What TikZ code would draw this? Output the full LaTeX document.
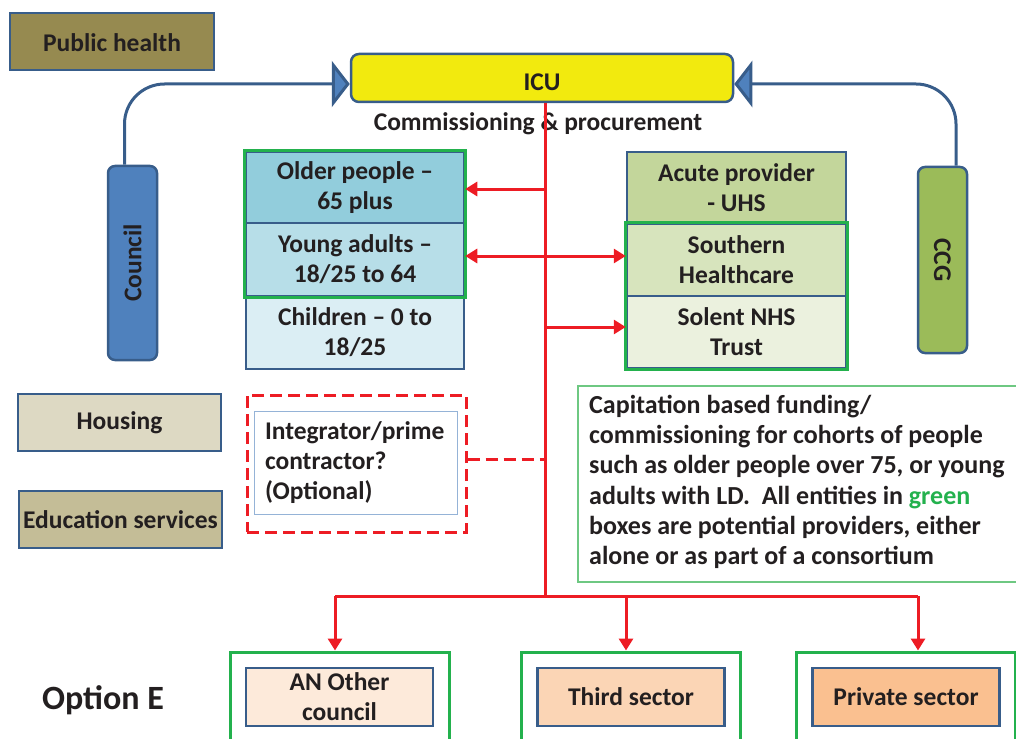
\documentclass[tikz,border=0pt]{standalone}
\usepackage{fontspec}
\setmainfont{Carlito}
\usepackage{tikz}
\usetikzlibrary{positioning, arrows.meta}

\definecolor{bordblue}{RGB}{56,93,138}
\definecolor{connblue}{RGB}{79,129,189}
\definecolor{ccggreen}{RGB}{155,187,89}
\definecolor{provgreen}{RGB}{35,177,77}
\definecolor{notegreen}{RGB}{110,200,130}
\definecolor{linkred}{RGB}{237,28,36}
\definecolor{txt}{RGB}{35,31,32}
\definecolor{olive}{RGB}{150,138,80}
\definecolor{icuyellow}{RGB}{242,234,14}
\definecolor{older}{RGB}{146,205,220}
\definecolor{young}{RGB}{183,222,232}
\definecolor{child}{RGB}{219,238,244}
\definecolor{acute}{RGB}{195,214,155}
\definecolor{south}{RGB}{215,228,189}
\definecolor{solent}{RGB}{235,241,222}
\definecolor{housing}{RGB}{221,217,195}
\definecolor{educ}{RGB}{196,189,151}
\definecolor{other}{RGB}{253,234,218}
\definecolor{third}{RGB}{251,213,181}
\definecolor{private}{RGB}{250,192,144}
\definecolor{lightblue}{RGB}{149,179,215}

\begin{document}
\begin{tikzpicture}[x=1pt, y=-1pt,
    every node/.style={font=\fontsize{25.5}{30}\selectfont\bfseries, text=txt, inner sep=0pt, align=center},
    box/.style={draw=bordblue, line width=2.5pt, minimum width=218pt, minimum height=72pt},
    sidebar/.style={draw=bordblue, line width=2.5pt, rounded corners=7pt, minimum height=49pt},
    greenframe/.style={draw=provgreen, line width=3pt},
    redlink/.style={draw=linkred, line width=3pt},
    redarrow/.style={redlink, -{Triangle[length=12pt, width=14pt]}},
    reddash/.style={redlink, dash pattern=on 12pt off 6pt},
    blueconn/.style={draw=bordblue, line width=3pt, rounded corners=40pt,
        -{Triangle[length=18pt, width=46pt, fill=connblue]}}]
    \useasboundingbox (0,0) rectangle (1016,738);

    % top row
    \node[box, fill=olive, minimum width=204pt, minimum height=57pt, text height=20.4pt, text depth=0pt] (ph) at (112,41.5) {Public health};
    \node[box, fill=icuyellow, rounded corners=8pt, minimum width=382pt, minimum height=48pt, text height=24.4pt, text depth=0pt] (icu) at (542,78) {ICU};
    \node (comm) at (538,124) {Commissioning \& procurement};

    % side bodies
    \node[sidebar, fill=connblue, rotate=90, minimum width=194pt] (council) at (132.5,263) {Council};
    \node[sidebar, fill=ccggreen, rotate=-90, minimum width=186pt] (ccg) at (942.5,260) {CCG};
    \draw[blueconn] ([xshift=-8pt]council.east) |- ([yshift=-6pt]icu.west);
    \draw[blueconn] ([xshift=13.5pt]ccg.west) |- ([yshift=-6pt]icu.east);

    % cohorts
    \node[box, fill=older, minimum height=71pt] (old) at (355,187.5) {Older people --\\65 plus};
    \node[box, fill=young, minimum height=73pt] (yng) at (355,259.5) {Young adults --\\18/25 to 64};
    \node[box, fill=child, minimum height=73pt] (chd) at (355,332.5) {Children -- 0 to\\18/25};
    \draw[greenframe] (old.north west) rectangle (yng.south east);

    % providers
    \node[box, fill=acute, minimum width=219pt] (acu) at (736.5,188) {Acute provider\\- UHS};
    \node[box, fill=south, minimum width=219pt] (sth) at (736.5,260) {Southern\\Healthcare};
    \node[box, fill=solent, minimum width=219pt] (sol) at (736.5,332) {Solent NHS\\Trust};
    \draw[greenframe] (sth.north west) rectangle (sol.south east);

    % other services
    \node[box, fill=housing, minimum width=203pt, minimum height=57pt] (hsg) at (119.5,422.5) {Housing};
    \node[box, fill=educ, minimum width=203pt, minimum height=57pt] (edu) at (120.5,519.5) {Education services};

    % integrator
    \node[reddash, minimum width=219pt, minimum height=137pt] (opt) at (356.5,463.5) {};
    \node[draw=lightblue, line width=1pt, minimum width=203pt, minimum height=103pt, text width=181pt, align=left] (integ) at (355.5,462.5) {Integrator/prime\\contractor?\\(Optional)};

    % note
    \draw[notegreen, line width=1.3pt] (1030,386) -| (578,582) -- (1030,582);
    \node[anchor=north west, align=left, font=\fontsize{26}{30.2}\selectfont\bfseries] (note) at (589,395) {Capitation based funding/\\commissioning for cohorts of people\\such as older people over 75, or young\\adults with LD.\ \ All entities in \textcolor{provgreen}{green}\\boxes are potential providers, either\\alone or as part of a consortium};

    % option
    \node[font=\fontsize{34}{36}\selectfont\bfseries] (optE) at (103,700) {Option E};
    \foreach \n/\x/\f/\t in {fa/339.5/other/{AN Other\\council}, fb/631/third/Third sector, fc/906/private/Private sector} {
        \node[greenframe, minimum width=219pt, minimum height=93pt] (\n) at (\x,698.5) {};
        \node[box, fill=\f, minimum width=187pt, minimum height=58pt] (\n in) at (\x,697) {\t};
    }

    % red links
    \coordinate (jn) at (545,596);
    \draw[redlink] (icu.south -| jn) -- (jn);
    \draw[redarrow] ([yshift=-1.5pt]old.east -| jn) -- ([yshift=-1.5pt]old.east);
    \draw[redlink, {Triangle[length=12pt, width=14pt]}-{Triangle[length=12pt, width=14pt]}] ([yshift=3.5pt]yng.east) -- ([yshift=3.5pt]yng.east -| sth.west);
    \draw[redarrow] ([yshift=5pt]sol.west -| jn) -- ([yshift=5pt]sol.west);
    \draw[reddash] ([yshift=4.5pt]opt.east) -- ([yshift=4.5pt]opt.east -| jn);
    \draw[redlink] ([xshift=-4.5pt]fa.north |- jn) -- ([xshift=12pt]fc.north |- jn);
    \foreach \n/\s in {fa/-4.5,fb/-5,fc/12}
        \draw[redarrow] ([xshift=\s pt]\n.north |- jn) -- ([xshift=\s pt]\n.north);
\end{tikzpicture}
\end{document}
